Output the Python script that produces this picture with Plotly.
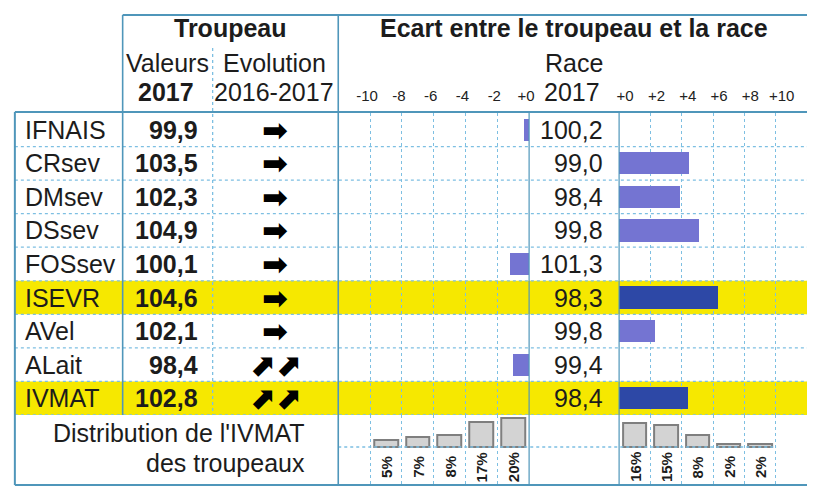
import plotly.graph_objects as go

# ---------------- data ----------------
criteres = ["IFNAIS", "CRsev", "DMsev", "DSsev", "FOSsev", "ISEVR", "AVel", "ALait", "IVMAT"]
troupeau_2017 = [99.9, 103.5, 102.3, 104.9, 100.1, 104.6, 102.1, 98.4, 102.8]
evolution = ["stable", "stable", "stable", "stable", "stable", "stable", "stable", "hausse", "hausse"]
race_2017 = [100.2, 99.0, 98.4, 99.8, 101.3, 98.3, 99.8, 99.4, 98.4]
ecart = [-0.3, 4.5, 3.9, 5.1, -1.2, 6.3, 2.3, -1.0, 4.4]
synthese = ["ISEVR", "IVMAT"]

ticks_neg = [-10, -8, -6, -4, -2, 0]
ticks_neg_text = ["-10", "-8", "-6", "-4", "-2", "+0"]
ticks_pos = [0, 2, 4, 6, 8, 10]
ticks_pos_text = ["+0", "+2", "+4", "+6", "+8", "+10"]

dist_classes_neg = [-9, -7, -5, -3, -1]
dist_pct_neg = [5, 7, 8, 17, 20]
dist_classes_pos = [1, 3, 5, 7, 9]
dist_pct_pos = [16, 15, 8, 2, 2]

# ---------------- layout helpers ----------------
W, H = 813, 487
def px(x):
    return x / W
def py(y):
    return 1 - y / H

FONT = "Liberation Sans"
TXT = "#1c1c1c"
BORDER = "#4f96ba"
GRID = "#7dbfe2"
YELLOW = "#f6e800"
BAR = "#7474d2"
BAR_HI = "#2d48a6"
fmt = lambda v: f"{v:.1f}".replace(".", ",")
arrows = {"stable": ("➡", 31), "hausse": ("⬈⬈", 31)}

n = len(criteres)
rows = list(range(n))
is_hi = [c in synthese for c in criteres]

fig = go.Figure()

neg_vals = [v if v < 0 else None for v in ecart]
pos_vals = [v if v > 0 else None for v in ecart]
colors = [BAR_HI if h else BAR for h in is_hi]

fig.add_trace(go.Bar(x=neg_vals, y=rows, orientation="h", xaxis="x", yaxis="y",
                     marker=dict(color=colors, line=dict(width=0)), width=0.66,
                     showlegend=False, hoverinfo="skip"))
fig.add_trace(go.Bar(x=pos_vals, y=rows, orientation="h", xaxis="x2", yaxis="y",
                     marker=dict(color=colors, line=dict(width=0)), width=0.66,
                     showlegend=False, hoverinfo="skip"))
fig.add_trace(go.Bar(x=dist_classes_neg, y=dist_pct_neg, xaxis="x3", yaxis="y3",
                     marker=dict(color="#d3d3d3", line=dict(color="#7f7f7f", width=2)),
                     width=1.5, showlegend=False, hoverinfo="skip"))
fig.add_trace(go.Bar(x=dist_classes_pos, y=dist_pct_pos, xaxis="x4", yaxis="y3",
                     marker=dict(color="#d3d3d3", line=dict(color="#7f7f7f", width=2)),
                     width=1.5, showlegend=False, hoverinfo="skip"))

ppp = 1.47  # px per percent
y3_range = [-(485 - 447) / ppp, (447 - 415) / ppp]

grid_common = dict(showgrid=True, gridcolor=GRID, griddash="dot", gridwidth=1.2,
                   zeroline=False, showline=False, fixedrange=True)

fig.update_layout(
    width=W, height=H, margin=dict(l=0, r=0, t=0, b=0),
    paper_bgcolor="white", plot_bgcolor="rgba(0,0,0,0)",
    font=dict(family=FONT, color=TXT, size=25),
    bargap=0,
    xaxis=dict(domain=[px(339), px(532)], range=[-12, 0], anchor="y", side="top",
               tickvals=ticks_neg, ticktext=ticks_neg_text, ticks="outside", ticklen=5,
               tickcolor="rgba(0,0,0,0)", tickfont=dict(size=15, color="#222"),
               ticklabelshift=-3, **grid_common),
    xaxis2=dict(domain=[px(623), 1.0], range=[0, 12], anchor="y", side="top",
                tickvals=ticks_pos, ticktext=ticks_pos_text, ticks="outside", ticklen=5,
                tickcolor="rgba(0,0,0,0)", tickfont=dict(size=15, color="#222"),
                ticklabelshift=6, **grid_common),
    yaxis=dict(domain=[py(415), py(113)], range=[n - 0.5, -0.5], anchor="x",
               showgrid=False, zeroline=False, showticklabels=False, fixedrange=True),
    xaxis3=dict(domain=[px(339), px(532)], range=[-12, 0], anchor="y3",
                tickvals=ticks_neg, showticklabels=False, **grid_common),
    xaxis4=dict(domain=[px(623), 1.0], range=[0, 12], anchor="y3",
                tickvals=ticks_pos, showticklabels=False, **grid_common),
    yaxis3=dict(domain=[py(485), py(415)], range=y3_range, anchor="x3",
                showgrid=False, zeroline=False, showticklabels=False, fixedrange=True),
)

shapes = []
for i, h in enumerate(is_hi):
    if h:
        shapes.append(dict(type="rect", xref="paper", yref="y", x0=px(12), x1=1,
                           y0=i - 0.5, y1=i + 0.5, fillcolor=YELLOW, line=dict(width=0),
                           layer="below"))
for i in range(n):
    shapes.append(dict(type="line", xref="paper", yref="y", x0=px(12), x1=1,
                       y0=i + 0.5, y1=i + 0.5, line=dict(color=GRID, width=1.3, dash="dot"),
                       layer="above"))
shapes.append(dict(type="line", xref="paper", yref="y3", x0=px(339), x1=px(782),
                   y0=0, y1=0, line=dict(color=GRID, width=1.3, dash="dot"), layer="above"))
shapes.append(dict(type="line", xref="paper", yref="paper", x0=px(212), x1=px(212),
                   y0=py(48), y1=py(415), line=dict(color=GRID, width=1.3, dash="dot")))
def solid(x0, y0, x1, y1, w=1.6):
    shapes.append(dict(type="line", xref="paper", yref="paper", x0=px(x0), x1=px(x1),
                       y0=py(y0), y1=py(y1), line=dict(color=BORDER, width=w)))
solid(121, 15, 813, 15, 2)
solid(12, 112, 813, 112, 2)
solid(12, 485, 813, 485, 2)
solid(12, 112, 12, 485, 2)
solid(121, 15, 121, 415)
solid(339, 15, 339, 485)
solid(532, 112, 532, 485, 1.2)
solid(623, 112, 623, 485, 1.2)
fig.update_layout(shapes=shapes)

ann = []
def txt(x, y, s, size=25, anchor="center", bold=False, family=FONT, **kw):
    ann.append(dict(xref="paper", yref="paper", x=px(x), y=py(y), text=f"<b>{s}</b>" if bold else s,
                    showarrow=False, xanchor=anchor, yanchor="middle",
                    font=dict(size=size, family=family, color=TXT), **kw))

txt(230, 28, "Troupeau", bold=True)
txt(166, 63, "Valeurs")
txt(275, 63, "Evolution")
txt(165, 92, "2017", bold=True)
txt(274, 92, "2016-2017")
txt(577, 28, "Ecart entre le troupeau et la race", bold=True)
txt(577, 63, "Race")
txt(575, 92, "2017")

for i in rows:
    yy = dict(xref="paper", yref="y", y=i, showarrow=False, yanchor="middle")
    ann.append(dict(x=px(20), text=criteres[i], xanchor="left",
                    font=dict(size=25, family=FONT, color=TXT), **yy))
    ann.append(dict(x=px(199), text=f"<b>{fmt(troupeau_2017[i])}</b>", xanchor="right",
                    font=dict(size=25, family=FONT, color=TXT), **yy))
    g, sz = arrows[evolution[i]]
    ann.append(dict(x=px(275), text=f"<b>{g}</b>", xanchor="center",
                    font=dict(size=sz, family="DejaVu Sans", color="black"), **yy))
    ann.append(dict(x=px(609), text=fmt(race_2017[i]), xanchor="right",
                    font=dict(size=25, family=FONT, color=TXT), **yy))

txt(307, 433, "Distribution de l'IVMAT", anchor="right")
txt(307, 463, "des troupeaux", anchor="right")
for xs, vs, xr in ((dist_classes_neg, dist_pct_neg, "x3"), (dist_classes_pos, dist_pct_pos, "x4")):
    for xv, v in zip(xs, vs):
        ann.append(dict(xref=xr, yref="paper", x=xv, y=py(467), text=f"<b>{v}%</b>",
                        showarrow=False, textangle=-90, xanchor="center", yanchor="middle",
                        font=dict(size=15, family=FONT, color=TXT)))
fig.update_layout(annotations=ann)

fig.write_html("out.html", config={"displayModeBar": False},
               post_script="document.body.style.margin='0';")
